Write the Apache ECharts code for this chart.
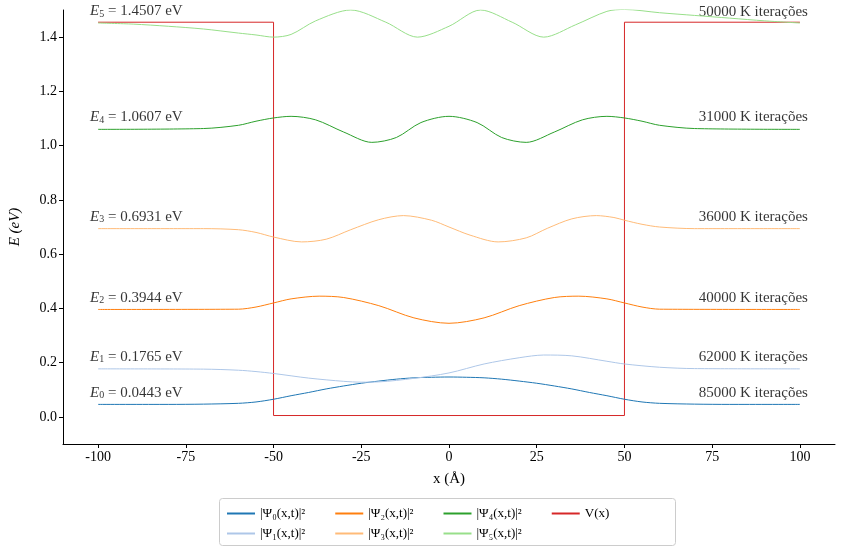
<!DOCTYPE html>
<html>
<head>
  <meta charset="utf-8">
  <title>Estados</title>
  <script src="https://cdn.jsdelivr.net/npm/echarts@6/dist/echarts.min.js"></script>
</head>
<style>
  html, body { margin: 0; padding: 0; background: #fff; }
</style>
<body>
  <div id="chart" style="width: 845px; height: 551px;"></div>
  <script>
    // dados
    const psi0 = [[-100,0.046],[-80,0.046],[-70,0.047],[-60,0.05],[-55,0.055],[-50,0.065],[-45,0.078],[-40,0.09],[-35,0.103],[-30,0.114],[-25,0.124],[-20,0.132],[-15,0.139],[-10,0.144],[-5,0.146],[0,0.147],[5,0.146],[10,0.144],[15,0.139],[20,0.132],[25,0.124],[30,0.114],[35,0.103],[40,0.09],[45,0.078],[50,0.065],[55,0.055],[60,0.05],[70,0.047],[80,0.046],[100,0.046]];
    const psi1 = [[-100,0.177],[-70,0.176],[-60,0.172],[-55,0.167],[-50,0.16],[-40,0.143],[-30,0.131],[-25,0.128],[-20,0.129],[-10,0.142],[0,0.162],[10,0.195],[20,0.218],[27,0.228],[35,0.225],[45,0.205],[50,0.195],[60,0.183],[70,0.178],[100,0.177]];
    const psi2 = [[-100,0.396],[-60,0.397],[-55,0.405],[-50,0.42],[-45,0.435],[-37,0.445],[-30,0.44],[-20,0.41],[-10,0.365],[0,0.345],[10,0.365],[20,0.41],[30,0.44],[37,0.445],[45,0.435],[50,0.42],[55,0.405],[60,0.397],[100,0.396]];
    const psi3 = [[-100,0.694],[-70,0.694],[-60,0.69],[-55,0.68],[-50,0.663],[-42,0.645],[-35,0.655],[-28,0.69],[-20,0.727],[-13,0.742],[-5,0.725],[0,0.70],[6,0.67],[14,0.645],[22,0.66],[28,0.695],[35,0.73],[42,0.742],[47,0.735],[50,0.725],[55,0.71],[60,0.70],[70,0.694],[100,0.694]];
    const psi4 = [[-100,1.06],[-70,1.063],[-60,1.075],[-55,1.09],[-50,1.102],[-45,1.108],[-38,1.095],[-30,1.05],[-22,1.012],[-15,1.03],[-8,1.085],[0,1.108],[8,1.085],[15,1.03],[22,1.012],[30,1.05],[38,1.095],[45,1.108],[50,1.102],[55,1.09],[60,1.075],[70,1.063],[100,1.06]];
    const psi5 = [[-100,1.452],[-90,1.448],[-80,1.44],[-70,1.43],[-60,1.415],[-55,1.408],[-50,1.40],[-45,1.41],[-38,1.46],[-28,1.5],[-18,1.455],[-9,1.40],[0,1.44],[9,1.5],[18,1.455],[27,1.40],[36,1.445],[45,1.495],[50,1.502],[60,1.49],[70,1.48],[80,1.47],[90,1.46],[100,1.452]];
    const potencial = [[-100,1.455],[-50,1.455],[-50,0.005],[50,0.005],[50,1.455],[100,1.455]];
    const energias = [0.0443, 0.1765, 0.3944, 0.6931, 1.0607, 1.4507];
    const energiaTexto = ['0.0443', '0.1765', '0.3944', '0.6931', '1.0607', '1.4507'];
    const iteracoes = ['85000', '62000', '40000', '36000', '31000', '50000'];
    const xTicks = [-100, -75, -50, -25, 0, 25, 50, 75, 100];
    const yTicks = [0, 0.2, 0.4, 0.6, 0.8, 1.0, 1.2, 1.4];

    const cores = ['#1f77b4', '#aec7e8', '#ff7f0e', '#ffbb78', '#2ca02c', '#98df8a'];
    const nomes = ['|Ψ₀(x,t)|²', '|Ψ₁(x,t)|²', '|Ψ₂(x,t)|²', '|Ψ₃(x,t)|²', '|Ψ₄(x,t)|²', '|Ψ₅(x,t)|²'];
    const curvas = [psi0, psi1, psi2, psi3, psi4, psi5];
    const fonte = 'Liberation Serif';

    const series = curvas.map((d, i) => ({
      name: nomes[i], type: 'line', data: d, smooth: 0.3, showSymbol: false,
      lineStyle: { width: 1, color: cores[i] }, itemStyle: { color: cores[i] }, z: 3
    }));
    series.push({
      name: 'V(x)', type: 'line', data: potencial, showSymbol: false,
      lineStyle: { width: 1, color: '#d62728' }, itemStyle: { color: '#d62728' }, z: 2
    });
    // rótulos de energia (esquerda) e iterações (direita)
    series.push({
      type: 'scatter', symbolSize: 0, silent: true,
      data: energias.map((e, i) => ({
        value: [-100, e + 0.012],
        label: { show: true, position: 'top', align: 'left', offset: [-8, 4], color: '#000',
          fontFamily: fonte, fontSize: 15,
          formatter: '{i|E}{s|' + i + '} = ' + energiaTexto[i] + ' eV',
          rich: { i: { fontStyle: 'italic', fontFamily: fonte, fontSize: 15, color: '#000' },
                  s: { fontSize: 10, fontFamily: fonte, color: '#000', padding: [6, 0, 0, 0] } } }
      }))
    });
    series.push({
      type: 'scatter', symbolSize: 0, silent: true,
      data: energias.map((e, i) => ({
        value: [100, e + 0.012],
        label: { show: true, position: 'top', align: 'right', offset: [8, 4], color: '#000',
          fontFamily: fonte, fontSize: 15,
          formatter: iteracoes[i] + ' K iterações' }
      }))
    });

    const chart = echarts.init(document.getElementById('chart'));
    chart.setOption({
      animation: false,
      textStyle: { fontFamily: fonte },
      grid: { left: 55, right: 10, top: 10, bottom: 107 },
      xAxis: {
        type: 'value', min: -110, max: 110,
        name: 'x (Å)', nameLocation: 'middle', nameGap: 28,
        nameTextStyle: { fontSize: 15, color: '#000', fontFamily: fonte },
        axisLine: { onZero: false, lineStyle: { color: '#000' } },
        axisTick: { show: true, length: 4, customValues: xTicks, lineStyle: { color: '#000' } },
        axisLabel: { customValues: xTicks, fontSize: 14, color: '#000', fontFamily: fonte, margin: 6 },
        splitLine: { show: false }
      },
      yAxis: {
        type: 'value', min: -0.1, max: 1.5,
        name: 'E (eV)', nameLocation: 'middle', nameGap: 40,
        nameTextStyle: { fontSize: 15, color: '#000', fontFamily: fonte, fontStyle: 'italic' },
        axisLine: { show: true, onZero: false, lineStyle: { color: '#000' } },
        axisTick: { show: true, length: 4, customValues: yTicks, lineStyle: { color: '#000' } },
        axisLabel: { customValues: yTicks, fontSize: 14, color: '#000', fontFamily: fonte, margin: 6,
          formatter: v => v.toFixed(1) },
        splitLine: { show: false }
      },
      legend: [
        { data: [nomes[0], nomes[2], nomes[4], 'V(x)'], left: 222, top: 502, itemGap: 30,
          itemWidth: 28, itemHeight: 2, icon: 'rect', textStyle: { fontSize: 13, fontFamily: fonte, color: '#000' } },
        { data: [nomes[1], nomes[3], nomes[5]], left: 222, top: 522, itemGap: 30,
          itemWidth: 28, itemHeight: 2, icon: 'rect', textStyle: { fontSize: 13, fontFamily: fonte, color: '#000' } }
      ],
      graphic: [{
        type: 'rect', left: 217, top: 496,
        shape: { width: 456, height: 47, r: 3 },
        style: { fill: 'none', stroke: '#ccc', lineWidth: 1 }, z: -1
      }],
      series: series
    });
  </script>
</body>
</html>
